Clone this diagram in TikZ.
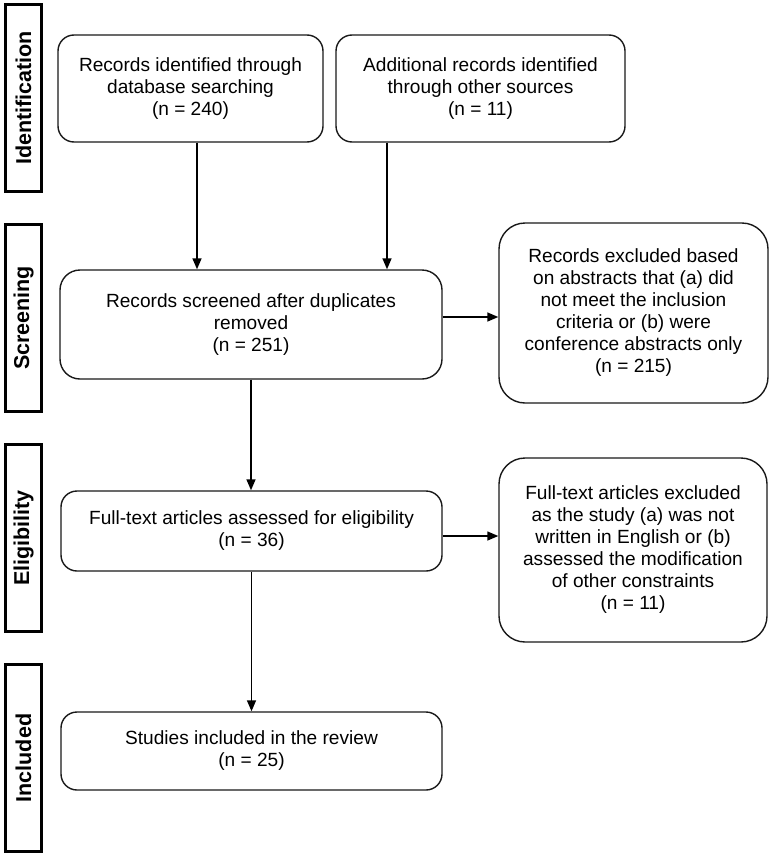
\documentclass[tikz,border=0pt]{standalone}
\usepackage{fontspec}
\setmainfont{Liberation Sans}
\usetikzlibrary{arrows.meta}
\begin{document}
\begin{tikzpicture}[x=1pt,y=-1pt,
  box/.style={draw=black!90, line width=1.4pt, align=center, inner sep=0pt,
    font=\fontsize{19.1}{22}\selectfont},
  side/.style={draw=black, line width=3pt, rotate=90, inner sep=0pt,
    minimum width=187pt, minimum height=36pt,
    font=\fontsize{21.5}{24}\selectfont\bfseries},
  arr/.style={line width=1.4pt, -{Triangle[length=11pt,width=9pt]}}]
\useasboundingbox (0,0) rectangle (769,854);
% side labels
\node[side] (s1) at (23.5,98) {Identification};
\node[side] (s2) at (23.5,318) {Screening};
\node[side] (s3) at (23.5,538) {Eligibility};
\node[side] (s4) at (23.5,758) {Included};
% boxes
\node[box, rounded corners=16pt, minimum width=265pt, minimum height=107pt] (b1) at (190.5,88.5)
  {Records identified through\\database searching\\(n = 240)};
\node[box, rounded corners=16pt, minimum width=289pt, minimum height=107pt] (b2) at (480.5,88.5)
  {Additional records identified\\through other sources\\(n = 11)};
\node[box, rounded corners=20pt, minimum width=382pt, minimum height=109pt] (scr) at (251,324.5)
  {Records screened after duplicates\\removed\\(n = 251)};
\node[box, rounded corners=26pt, minimum width=269pt, minimum height=180pt] (ex1) at (633.5,313)
  {Records excluded based\\on abstracts that (a) did\\not meet the inclusion\\criteria or (b) were\\conference abstracts only\\(n = 215)};
\node[box, rounded corners=16pt, minimum width=381pt, minimum height=80pt] (ft) at (251.5,531)
  {Full-text articles assessed for eligibility\\(n = 36)};
\node[box, rounded corners=26pt, minimum width=268pt, minimum height=184pt] (ex2) at (633,550)
  {Full-text articles excluded\\as the study (a) was not\\written in English or (b)\\assessed the modification\\of other constraints\\(n = 11)};
\node[box, rounded corners=16pt, minimum width=381pt, minimum height=78pt] (inc) at (251.5,751)
  {Studies included in the review\\(n = 25)};
% connectors
\draw[arr] ([xshift=6.5pt]b1.south) -- ([xshift=6.5pt]b1.south |- scr.north);
\draw[arr] ([xshift=-93.5pt]b2.south) -- ([xshift=-93.5pt]b2.south |- scr.north);
\draw[arr] ([yshift=7.5pt]scr.east) -- ([yshift=7.5pt]scr.east -| ex1.west);
\draw[arr] (scr.south) -- (scr.south |- ft.north);
\draw[arr] ([yshift=-5pt]ft.east) -- ([yshift=-5pt]ft.east -| ex2.west);
\draw[arr] (ft.south) -- (ft.south |- inc.north);
\end{tikzpicture}
\end{document}
